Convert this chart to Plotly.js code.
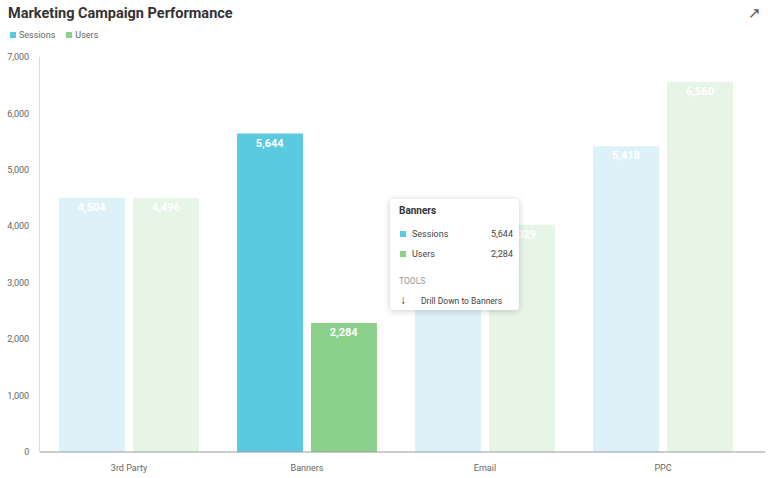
<!DOCTYPE html>
<html>
<head>
<meta charset="utf-8">
<script src="https://cdn.plot.ly/plotly-3.0.1.min.js"></script>
<style>
  html, body { margin: 0; padding: 0; background: #fff; }
  #wrap { position: relative; width: 768px; height: 478px; font-family: Roboto, "Open Sans", sans-serif; }
  #chart { position: absolute; left: 0; top: 0; width: 768px; height: 478px; }
  .legend { position: absolute; left: 10px; top: 30px; font-size: 9px; color: #666; display: flex; gap: 11px; }
  .legend span.sq { display: inline-block; width: 6px; height: 6px; margin-right: 3px; vertical-align: 0px; }
  .expand { position: absolute; left: 748px; top: 4px; font-size: 15px; color: #555; }
  .tip { position: absolute; left: 390px; top: 199px; width: 129px; height: 111px; background: #fff; border-radius: 3px;
         box-shadow: 0 1px 6px rgba(0,0,0,0.2); font-size: 9px; color: #444; }
  .tip .t { position: absolute; left: 9px; top: 6px; font-weight: bold; font-size: 10px; color: #333; }
  .tip .row { position: absolute; left: 10px; width: 113px; }
  .tip .row .sq { display: inline-block; width: 6px; height: 6px; margin-right: 6px; }
  .tip .row .v { position: absolute; right: 0; top: 0; }
  .tip .tools { position: absolute; left: 9px; top: 77px; color: #999; font-size: 8.5px; }
  .tip .drill { position: absolute; left: 10px; top: 94px; font-size: 8.5px; }
  .tip .drill .ar { display: inline-block; font-size: 12px; width: 21px; }
</style>
</head>
<body>
<div id="wrap">
  <div id="chart"></div>
  <div class="legend" id="legend"></div>
  <div class="expand">&#8599;</div>
  <div class="tip" id="tip"></div>
</div>
<script>
const categories = ["3rd Party", "Banners", "Email", "PPC"];
const sessions = [4504, 5644, 3640, 5418];
const users = [4496, 2284, 4029, 6560];
const seriesNames = ["Sessions", "Users"];
const highlighted = "Banners";

const sessColor = "#5bc9df", sessFade = "#dcf2f8";
const userColor = "#8cd18b", userFade = "#e7f5e7";

const fmt = v => v.toLocaleString("en-US");

function colors(full, faded) {
  return categories.map(c => c === highlighted ? full : faded);
}

const labelFont = { color: "#ffffff", size: 11, family: "Roboto", weight: "bold" };

const traces = [
  { type: "bar", name: seriesNames[0], x: categories, y: sessions,
    marker: { color: colors(sessColor, sessFade) },
    text: sessions.map(fmt), textposition: "inside", insidetextanchor: "end",
    textfont: labelFont, hoverinfo: "none" },
  { type: "bar", name: seriesNames[1], x: categories, y: users,
    marker: { color: colors(userColor, userFade) },
    text: users.map(fmt), textposition: "inside", insidetextanchor: "end",
    textfont: labelFont, hoverinfo: "none" }
];

const L = 40, R = 16, W = 768;
const layout = {
  width: 768, height: 478,
  margin: { l: L, r: R, t: 57, b: 26 },
  paper_bgcolor: "#fff", plot_bgcolor: "#fff",
  font: { family: "Roboto, sans-serif", color: "#666", size: 9 },
  title: { text: "Marketing Campaign Performance", x: 0.0105, xanchor: "left", y: 0.973, yanchor: "middle",
           font: { size: 14.5, color: "#333", family: "Roboto", weight: "bold" } },
  showlegend: false,
  barmode: "group", bargap: 0.169, bargroupgap: 0.108,
  xaxis: { showgrid: false, showline: false, ticks: "",
           tickfont: { size: 9, color: "#666" }, ticklabelstandoff: 9, fixedrange: true },
  yaxis: { range: [0, 7000], dtick: 1000, tickformat: ",d", showgrid: false, zeroline: false,
           showline: true, linecolor: "#dcdcdc", linewidth: 1, ticks: "", ticklabelstandoff: 8,
           tickfont: { size: 9, color: "#666" }, fixedrange: true },
  shapes: [
    { type: "line", xref: "paper", yref: "paper", x0: 0, x1: (765 - L) / (W - L - R), y0: 0, y1: 0,
      line: { color: "#9a9a9a", width: 1 } }
  ]
};

Plotly.newPlot("chart", traces, layout, { displayModeBar: false, staticPlot: true });

// legend
const lg = document.getElementById("legend");
[[seriesNames[0], sessColor], [seriesNames[1], userColor]].forEach(([n, c]) => {
  const d = document.createElement("div");
  d.innerHTML = '<span class="sq" style="background:' + c + '"></span>' + n;
  lg.appendChild(d);
});

// tooltip
const idx = categories.indexOf(highlighted);
const tip = document.getElementById("tip");
tip.innerHTML =
  '<div class="t">' + highlighted + '</div>' +
  '<div class="row" style="top:30px"><span class="sq" style="background:' + sessColor + '"></span>' + seriesNames[0] + '<span class="v">' + fmt(sessions[idx]) + '</span></div>' +
  '<div class="row" style="top:50px"><span class="sq" style="background:' + userColor + '"></span>' + seriesNames[1] + '<span class="v">' + fmt(users[idx]) + '</span></div>' +
  '<div class="tools">TOOLS</div>' +
  '<div class="drill"><span class="ar">&#8595;</span>Drill Down to ' + highlighted + '</div>';
</script>
</body>
</html>
